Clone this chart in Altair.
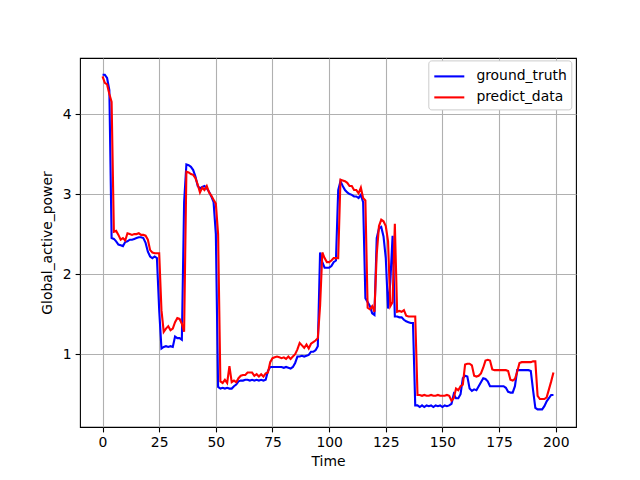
import pandas as pd
import altair as alt

ground_truth = [
    4.49, 4.49, 4.45, 4.30, 2.45, 2.44, 2.41, 2.37, 2.36, 2.35,
    2.40, 2.41, 2.43, 2.43, 2.44, 2.45, 2.46, 2.46, 2.45, 2.39,
    2.28, 2.22, 2.20, 2.22, 2.20, 1.55, 1.07, 1.09, 1.10, 1.09,
    1.10, 1.09, 1.22, 1.20, 1.20, 1.18, 2.90, 3.37, 3.36, 3.34,
    3.30, 3.22, 3.10, 3.07, 3.09, 3.10, 3.07, 3.03, 2.97, 2.90,
    2.50, 0.59, 0.57, 0.58, 0.57, 0.58, 0.57, 0.57, 0.60, 0.62,
    0.66, 0.67, 0.67, 0.68, 0.68, 0.67, 0.68, 0.67, 0.68, 0.67,
    0.68, 0.67, 0.68, 0.79, 0.84, 0.84, 0.84, 0.84, 0.84, 0.84,
    0.83, 0.84, 0.83, 0.82, 0.84, 0.89, 0.97, 0.97, 0.98, 0.97,
    0.98, 0.99, 1.03, 1.03, 1.05, 1.10, 2.27, 2.15, 2.08, 2.08,
    2.08, 2.10, 2.15, 2.17, 3.05, 3.16, 3.10, 3.05, 3.02, 3.00,
    2.99, 2.97, 2.97, 2.95, 2.99, 2.90, 1.70, 1.65, 1.60, 1.51,
    1.49, 2.45, 2.57, 2.59, 2.47, 2.20, 1.57, 1.90, 2.48, 1.47,
    1.47, 1.46, 1.46, 1.43, 1.41, 1.40, 1.39, 1.39, 0.36, 0.36,
    0.34, 0.36, 0.34, 0.36, 0.35, 0.36, 0.34, 0.36, 0.35, 0.36,
    0.34, 0.36, 0.35, 0.36, 0.38, 0.50, 0.45, 0.45, 0.50, 0.70,
    0.73, 0.72, 0.57, 0.54, 0.56, 0.55, 0.60, 0.65, 0.70, 0.69,
    0.66, 0.60, 0.60, 0.60, 0.60, 0.60, 0.60, 0.60, 0.58, 0.53,
    0.52, 0.52, 0.60, 0.80, 0.80, 0.80, 0.80, 0.80, 0.80, 0.79,
    0.55, 0.33, 0.31, 0.31, 0.31, 0.35, 0.41, 0.45, 0.49, 0.49,
]

predict_data = [
    4.47, 4.39, 4.37, 4.25, 4.15, 2.53, 2.54, 2.49, 2.43, 2.45,
    2.42, 2.51, 2.50, 2.49, 2.50, 2.50, 2.51, 2.49, 2.49, 2.48,
    2.43, 2.30, 2.27, 2.26, 2.26, 2.26, 1.55, 1.28, 1.32, 1.35,
    1.30, 1.32, 1.40, 1.45, 1.44, 1.38, 1.28, 3.28, 3.27, 3.25,
    3.24, 3.20, 3.12, 3.02, 3.08, 3.05, 3.10, 3.02, 2.98, 2.93,
    2.88, 2.50, 0.66, 0.64, 0.68, 0.64, 0.85, 0.65, 0.67, 0.65,
    0.70, 0.73, 0.74, 0.74, 0.77, 0.77, 0.77, 0.73, 0.75, 0.72,
    0.75, 0.72, 0.76, 0.77, 0.90, 0.95, 0.96, 0.97, 0.96, 0.95,
    0.96, 0.94, 0.97, 0.94, 0.97, 1.00, 1.06, 1.14, 1.11, 1.08,
    1.12, 1.07, 1.13, 1.15, 1.17, 1.20, 1.60, 2.27, 2.20, 2.15,
    2.15, 2.17, 2.20, 2.20, 2.20, 3.18, 3.17, 3.16, 3.14, 3.10,
    3.10, 3.05, 3.05, 3.01, 3.08, 2.95, 2.92, 1.58, 1.56, 1.60,
    1.53, 2.25, 2.60, 2.68, 2.66, 2.60, 2.41, 1.60, 1.65, 2.63,
    1.53, 1.54, 1.53, 1.55, 1.48, 1.47, 1.47, 1.47, 1.47, 0.49,
    0.49, 0.48, 0.49, 0.48, 0.48, 0.49, 0.48, 0.48, 0.49, 0.48,
    0.48, 0.48, 0.49, 0.48, 0.42, 0.45, 0.57, 0.55, 0.60, 0.62,
    0.87, 0.88, 0.88, 0.86, 0.73, 0.72, 0.73, 0.76, 0.83, 0.92,
    0.93, 0.92, 0.81, 0.80, 0.80, 0.80, 0.80, 0.80, 0.80, 0.79,
    0.68, 0.67, 0.69, 0.78, 0.89, 0.90, 0.90, 0.90, 0.90, 0.90,
    0.91, 0.91, 0.48, 0.44, 0.44, 0.44, 0.46, 0.56, 0.66, 0.77,
]

series_names = ["ground_truth", "predict_data"]
series_colors = ["#0000ff", "#ff0000"]
x_ticks = [0, 25, 50, 75, 100, 125, 150, 175, 200]
y_ticks = [1, 2, 3, 4]

# long format for altair
df = pd.concat([
    pd.DataFrame({"Time": range(len(ground_truth)), "value": ground_truth, "series": "ground_truth"}),
    pd.DataFrame({"Time": range(len(predict_data)), "value": predict_data, "series": "predict_data"}),
])

font = "DejaVu Sans"
fs = 13.9

chart = alt.Chart(df).mark_line(strokeWidth=2.1, clip=True).encode(
    x=alt.X("Time:Q",
            scale=alt.Scale(domain=[-9.95, 208.95], nice=False, zero=False),
            axis=alt.Axis(values=x_ticks, title="Time", format="d")),
    y=alt.Y("value:Q",
            scale=alt.Scale(domain=[0.09, 4.70], nice=False, zero=False),
            axis=alt.Axis(values=y_ticks, title="Global_active_power", format="d")),
    color=alt.Color("series:N",
                    scale=alt.Scale(domain=series_names, range=series_colors),
                    legend=alt.Legend(title=None, orient="none", legendX=348.3, legendY=2.4)),
).properties(
    width=496,
    height=369,
    autosize=alt.AutoSizeParams(type="none"),
    padding={"left": 72, "top": 50, "right": 56, "bottom": 45},
).configure_view(
    stroke="black",
    strokeWidth=1.1,
).configure_axis(
    domain=False,
    grid=True,
    gridColor="#b0b0b0",
    gridWidth=1.1,
    ticks=True,
    tickColor="black",
    tickSize=4.9,
    tickWidth=1.1,
    labelPadding=4,
    labelFont=font,
    labelFontSize=fs,
    labelColor="black",
    titleFont=font,
    titleFontSize=fs,
    titleFontWeight="normal",
    titleColor="black",
).configure_axisY(
    titlePadding=8,
).configure_axisX(
    titlePadding=5,
).configure_legend(
    # line glyph 30px long drawn from a 20px symbol box
    symbolType="M-1,0L2,0",
    symbolStrokeWidth=2.1,
    symbolSize=400,
    labelFont=font,
    labelFontSize=fs,
    labelColor="black",
    labelOffset=20.6,
    strokeColor="#cccccc",
    fillColor="white",
    padding=4.5,
    cornerRadius=3,
    rowPadding=2,
)

chart.save("out.html", embed_options={"renderer": "svg", "actions": False})
